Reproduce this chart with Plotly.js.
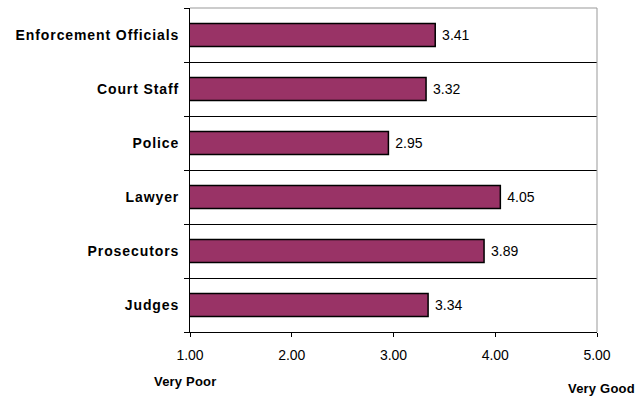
<!DOCTYPE html>
<html><head><meta charset="utf-8">
<script src="https://cdn.plot.ly/plotly-3.0.1.min.js"></script>
<style>body{margin:0;padding:0;background:#fff}#chart{width:639px;height:400px}
.ytick text{letter-spacing:0.9px}
.annotation-text{letter-spacing:0.2px}
</style>
</head><body><div id="chart"></div>
<script>
const categories = ["Judges", "Prosecutors", "Lawyer", "Police", "Court Staff", "Enforcement Officials"];
const scores = [3.34, 3.89, 4.05, 2.95, 3.32, 3.41];
const xTicks = [1, 2, 3, 4, 5];

const FONT = "Liberation Sans, Arial, sans-serif";
const trace = {
  type: "bar", orientation: "h",
  y: categories, x: scores,
  marker: {color: "#993366", line: {color: "#000", width: 1.5}},
  width: 0.43,
  text: scores.map(v => v.toFixed(2)),
  texttemplate: " %{text}",
  textposition: "outside",
  textfont: {family: FONT, size: 14, color: "#000"},
  cliponaxis: false,
  hoverinfo: "none"
};
const layout = {
  width: 639, height: 400,
  margin: {l: 190, r: 42, t: 8, b: 68},
  paper_bgcolor: "#fff", plot_bgcolor: "#fff",
  showlegend: false,
  xaxis: {
    range: [1, 5], tickvals: xTicks, tickformat: ".2f",
    showgrid: false, zeroline: false,
    ticks: "outside", ticklen: 4, tickcolor: "#000",
    showline: true, linecolor: "#000", linewidth: 1, mirror: false,
    tickfont: {family: FONT, size: 14, color: "#000"},
    ticklabelstandoff: 6
  },
  yaxis: {
    type: "category", tickson: "boundaries",
    showgrid: true, gridcolor: "#000", gridwidth: 1,
    ticks: "outside", ticklen: 5, tickcolor: "#000",
    showline: true, linecolor: "#000", linewidth: 1,
    tickfont: {family: FONT, size: 14, color: "#000", weight: "bold"},
    ticklabelstandoff: 7
  },
  shapes: [
    {type: "line", xref: "paper", yref: "paper", x0: 0, x1: 1, y0: 1, y1: 1, line: {color: "#999", width: 1}},
    {type: "line", xref: "paper", yref: "paper", x0: 1, x1: 1, y0: 0, y1: 1, line: {color: "#999", width: 1}}
  ],
  annotations: [
    {text: "<b>Very Poor</b>", xref: "paper", yref: "paper", x: -0.093, y: -0.154, xanchor: "left", yanchor: "middle", showarrow: false, font: {family: FONT, size: 13, color: "#000"}},
    {text: "<b>Very Good</b>", xref: "paper", yref: "paper", x: 1.098, y: -0.173, xanchor: "right", yanchor: "middle", showarrow: false, font: {family: FONT, size: 13, color: "#000"}}
  ]
};
Plotly.newPlot("chart", [trace], layout, {staticPlot: true, displayModeBar: false});
</script></body></html>
